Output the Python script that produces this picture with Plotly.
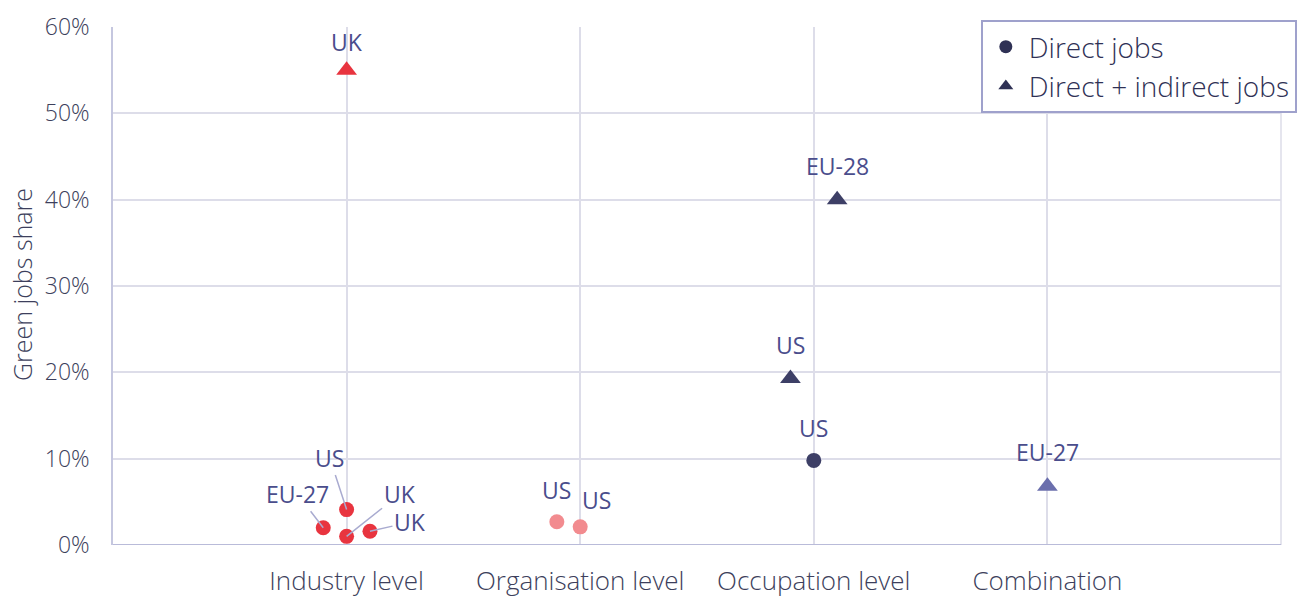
import plotly.graph_objects as go

categories = ["Industry level", "Organisation level", "Occupation level", "Combination"]
y_ticks = [0, 10, 20, 30, 40, 50, 60]

# one entry per point
point_category = [0, 0, 0, 0, 0, 1, 1, 2, 2, 2, 3]
point_value = [55.0, 2.0, 4.1, 1.0, 1.6, 2.7, 2.1, 40.0, 19.3, 9.8, 6.8]
point_label = ["UK", "EU-27", "US", "UK", "UK", "US", "US", "EU-28", "US", "US", "EU-27"]
point_kind = ["Direct + indirect jobs", "Direct jobs", "Direct jobs", "Direct jobs", "Direct jobs",
              "Direct jobs", "Direct jobs", "Direct + indirect jobs", "Direct + indirect jobs",
              "Direct jobs", "Direct + indirect jobs"]

# styling / placement (not data)
point_offset = [0, -0.1, 0, 0, 0.1, -0.1, 0, 0.1, -0.1, 0, 0]
group_color = {0: "#e8343f", 1: "#f28b8f", 2: "#3d3f66", 3: "#6b6fad"}
label_shift = [(0, -28), (-26, -34), (-17, -52), (53, -42), (40, -9), (0, -32), (16, -27),
               (0, -34), (0, -33), (0, -32), (0, -34)]
label_line = [False, True, True, True, True, False, False, False, False, False, False]

FONT = "Open Sans"
TEXT = "#4a4d8c"
GRID = "#dddde9"
AXIS_TEXT = "#3d3f5c"

fig = go.Figure()

xs = [c + o for c, o in zip(point_category, point_offset)]
for kind, sym, size in [("Direct jobs", "circle", 15), ("Direct + indirect jobs", "triangle-up", 18)]:
    idx = [i for i, k in enumerate(point_kind) if k == kind]
    fig.add_trace(go.Scatter(
        x=[xs[i] for i in idx], y=[point_value[i] for i in idx], mode="markers",
        marker=dict(symbol=sym, size=size, color=[group_color[point_category[i]] for i in idx],
                    line=dict(width=0)),
        showlegend=False, hoverinfo="skip"))
    fig.add_trace(go.Scatter(
        x=[None], y=[None], mode="markers", name=kind,
        marker=dict(symbol=sym, size=13, color="#2f3155")))

for i in range(len(point_value)):
    ax, ay = label_shift[i]
    fig.add_annotation(
        x=xs[i], y=point_value[i], text=point_label[i], showarrow=True,
        ax=ax, ay=ay, axref="pixel", ayref="pixel",
        arrowhead=0, arrowwidth=1.5,
        arrowcolor="#a9abd0" if label_line[i] else "rgba(0,0,0,0)",
        standoff=0, font=dict(family=FONT, size=23, color=TEXT))

fig.add_annotation(
    x=0, y=0.502, xref="paper", yref="paper", xanchor="center", yanchor="middle",
    xshift=-91, textangle=-90, showarrow=False, text="Green jobs share",
    font=dict(family=FONT, size=25, color=AXIS_TEXT, weight=300))

fig.update_layout(
    width=1304, height=599,
    margin=dict(l=113, r=23, t=27, b=54, autoexpand=False),
    paper_bgcolor="white", plot_bgcolor="white",
    font=dict(family=FONT, color=AXIS_TEXT),
    legend=dict(x=0.743, y=1.0135, xanchor="left", yanchor="top",
                bgcolor="white", bordercolor="#9fa1cc", borderwidth=2,
                font=dict(family=FONT, size=28, color="#2f3155", weight=300),
                itemsizing="trace", tracegroupgap=0, itemwidth=36),
    xaxis=dict(range=[-1, 4], tickvals=list(range(len(categories))), ticktext=categories,
               showgrid=True, gridcolor=GRID, gridwidth=1.5, zeroline=False,
               showline=False, ticks="outside", ticklen=13, tickcolor="rgba(0,0,0,0)",
               tickfont=dict(family=FONT, size=26, color=AXIS_TEXT, weight=300), automargin=False),
    yaxis=dict(range=[0, 60], tickvals=y_ticks, ticktext=[f"{v}%" for v in y_ticks],
               showgrid=True, gridcolor=GRID, gridwidth=1.5, zeroline=False,
               showline=True, linecolor="#c5c7df", linewidth=1.5,
               ticks="outside", ticklen=17, tickcolor="rgba(0,0,0,0)",
               tickfont=dict(family=FONT, size=23, color=AXIS_TEXT, weight=300), automargin=False),
)
fig.add_shape(type="line", xref="paper", yref="y", x0=0, x1=1, y0=0, y1=0,
              line=dict(color="#b9bbd9", width=2))
fig.add_shape(type="line", xref="paper", yref="paper", x0=1, x1=1, y0=0, y1=1,
              line=dict(color=GRID, width=1.5), layer="below")

fig.write_html("out.html", config={"displayModeBar": False},
               post_script="document.body.style.margin='0';")
